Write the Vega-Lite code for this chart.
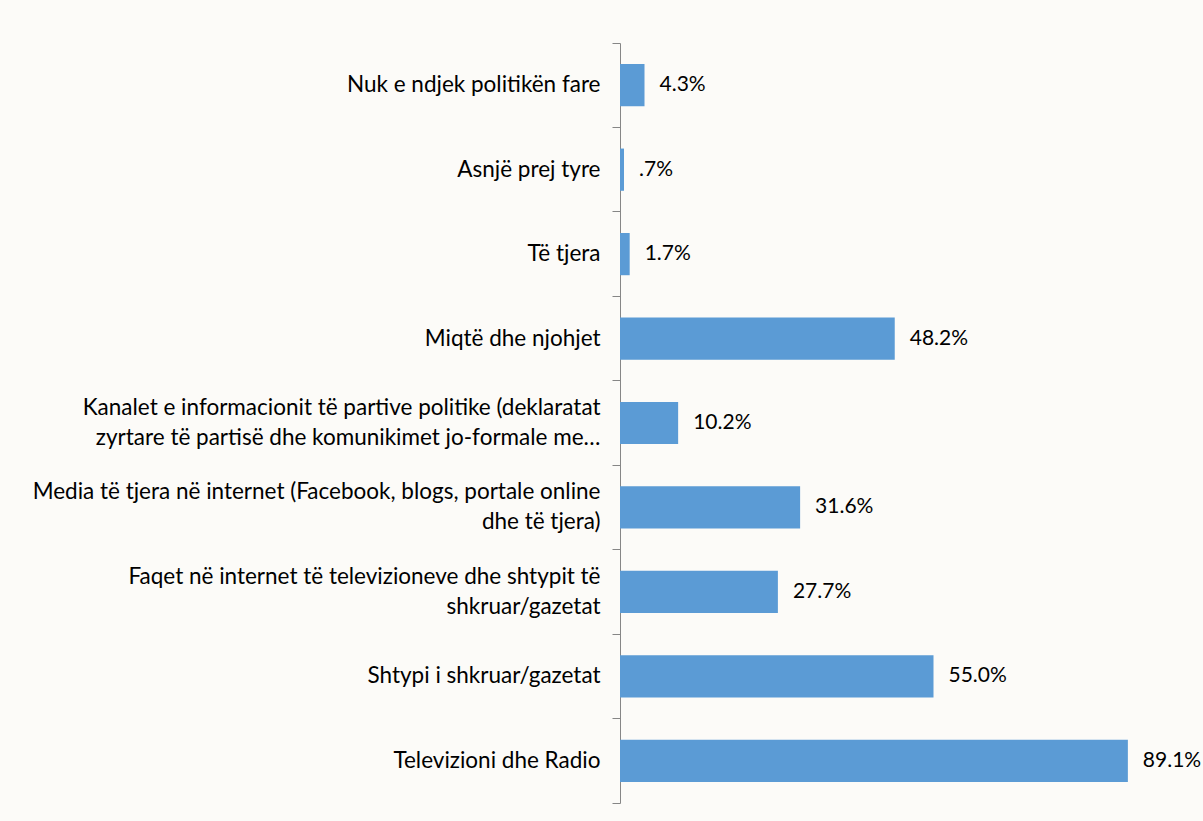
{
  "$schema": "https://vega.github.io/schema/vega-lite/v6.json",
  "width": 570,
  "height": 760,
  "autosize": {"type": "none"},
  "padding": {"left": 620, "top": 43, "right": 13, "bottom": 18},
  "background": "#FCFBF8",
  "data": {
    "values": [
      {"cat": "Nuk e ndjek politikën fare", "value": 4.3, "label": "4.3%"},
      {"cat": "Asnjë prej tyre", "value": 0.7, "label": ".7%"},
      {"cat": "Të tjera", "value": 1.7, "label": "1.7%"},
      {"cat": "Miqtë dhe njohjet", "value": 48.2, "label": "48.2%"},
      {"cat": "Kanalet e informacionit të partive politike (deklaratat|zyrtare të partisë dhe komunikimet jo-formale me…", "value": 10.2, "label": "10.2%"},
      {"cat": "Media të tjera në internet (Facebook, blogs, portale online|dhe të tjera)", "value": 31.6, "label": "31.6%"},
      {"cat": "Faqet në internet të televizioneve dhe shtypit të|shkruar/gazetat", "value": 27.7, "label": "27.7%"},
      {"cat": "Shtypi i shkruar/gazetat", "value": 55.0, "label": "55.0%"},
      {"cat": "Televizioni dhe Radio", "value": 89.1, "label": "89.1%"}
    ]
  },
  "encoding": {
    "y": {
      "field": "cat",
      "type": "nominal",
      "sort": null,
      "scale": {"paddingInner": 0, "paddingOuter": 0},
      "axis": {
        "title": null,
        "ticks": true,
        "bandPosition": 1,
        "tickExtra": true,
        "domainColor": "#868686",
        "tickColor": "#868686",
        "tickSize": 8,
        "tickWidth": 1,
        "labelPadding": 12,
        "labelFont": "Lato",
        "labelFontSize": 22.5,
        "labelColor": "#000000",
        "labelLimit": 800,
        "labelExpr": "datum.value ? split(datum.value, '|') : ''",
        "labelLineHeight": 30,
        "labelOffset": {"condition": {"test": "datum.value && indexof(datum.value, '|') >= 0", "value": -15}, "value": 0},
        "grid": false
      }
    },
    "x": {
      "field": "value",
      "type": "quantitative",
      "scale": {"domain": [0, 100]},
      "axis": null
    }
  },
  "layer": [
    {"mark": {"type": "bar", "color": "#5B9BD5", "height": {"band": 0.5}}},
    {
      "mark": {"type": "text", "align": "left", "baseline": "middle", "dx": 15, "fontSize": 21, "font": "Lato", "color": "#000000"},
      "encoding": {"text": {"field": "label"}}
    }
  ],
  "config": {"view": {"stroke": null}}
}
